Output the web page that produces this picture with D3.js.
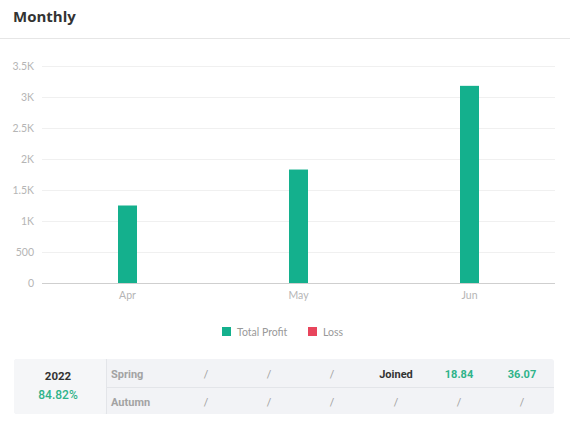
<!DOCTYPE html>
<html><head><meta charset="utf-8">
<script src="https://cdn.jsdelivr.net/npm/d3@7"></script>
<style>
html,body{margin:0;padding:0;background:#fff;}
svg{display:block;}
</style></head>
<body>
<svg id="c" width="570" height="427"></svg>
<script>
const categories = ["Apr", "May", "Jun"];
const totalProfit = [1250, 1830, 3180];
const loss = [0, 0, 0];
const yTicks = [0, 500, 1000, 1500, 2000, 2500, 3000, 3500];
const legendLabels = ["Total Profit", "Loss"];
const tableYear = "2022";
const tablePct = "84.82%";
const rowLabels = ["Spring", "Autumn"];
const rowSpring = ["/", "/", "/", "Joined", "18.84", "36.07"];
const rowAutumn = ["/", "/", "/", "/", "/", "/"];

const svg = d3.select("#c");
const green = "#14b08d", red = "#e8455c";
const font = "Lato, 'Open Sans', sans-serif";

svg.append("text").attr("x", 13).attr("y", 22).text("Monthly")
  .attr("font-family", "'Open Sans', sans-serif").attr("font-weight", 700)
  .attr("font-size", 15).attr("fill", "#333");
svg.append("line").attr("x1", 0).attr("x2", 570).attr("y1", 38.5).attr("y2", 38.5)
  .attr("stroke", "#e6e6e6");

const x = d3.scaleBand().domain(categories).range([42, 555]);
const y = d3.scaleLinear().domain([0, 3500]).range([283, 66]);

const fmt = v => v >= 1000 ? (v / 1000) + "K" : String(v);
const yAxis = svg.append("g").attr("transform", "translate(42,0)")
  .call(d3.axisLeft(y).tickValues(yTicks).tickFormat(fmt).tickSize(-513).tickPadding(8));
yAxis.select(".domain").remove();
yAxis.selectAll(".tick line").attr("stroke", d => d === 0 ? "#cfcfcf" : "#f0f0f0");
yAxis.selectAll(".tick text").attr("fill", "#b5b5b5").attr("font-size", 10.5).attr("font-family", font);

const xAxis = svg.append("g").attr("transform", "translate(0,283)")
  .call(d3.axisBottom(x).tickSize(0).tickPadding(9));
xAxis.select(".domain").remove();
xAxis.selectAll(".tick text").attr("fill", "#b5b5b5").attr("font-size", 10.5).attr("font-family", font);

const bw = 19;
svg.append("g").selectAll("rect").data(totalProfit).join("rect")
  .attr("x", (d, i) => x(categories[i]) + x.bandwidth() / 2 - bw / 2)
  .attr("y", d => y(d)).attr("width", bw).attr("height", d => y(0) - y(d))
  .attr("fill", green);

// legend
const lg = svg.append("g").attr("font-family", font).attr("font-size", 10.5);
const legX = [222, 308];
[green, red].forEach((c, i) => {
  lg.append("rect").attr("x", legX[i]).attr("y", 327).attr("width", 9).attr("height", 9).attr("fill", c);
  lg.append("text").attr("x", legX[i] + 15).attr("y", 335.5).text(legendLabels[i]).attr("fill", "#999");
});

// table
const t = svg.append("g").attr("font-family", "Roboto, 'Open Sans', sans-serif");
t.append("rect").attr("x", 14).attr("y", 359).attr("width", 540).attr("height", 55).attr("rx", 3).attr("fill", "#f2f3f6");
t.append("rect").attr("x", 14).attr("y", 359).attr("width", 92).attr("height", 55).attr("rx", 3).attr("fill", "#f5f6f8");
t.append("line").attr("x1", 106.5).attr("x2", 106.5).attr("y1", 359).attr("y2", 414).attr("stroke", "#e3e5e9");
t.append("line").attr("x1", 107).attr("x2", 554).attr("y1", 387.5).attr("y2", 387.5).attr("stroke", "#e3e5e9");
t.append("text").attr("x", 58).attr("y", 380).attr("text-anchor", "middle").text(tableYear)
  .attr("font-size", 11.5).attr("font-weight", 700).attr("fill", "#333");
t.append("text").attr("x", 58).attr("y", 399).attr("text-anchor", "middle").text(tablePct)
  .attr("font-size", 12).attr("font-weight", 500).attr("fill", "#2fb38a");
const rowsY = [378, 406];
rowLabels.forEach((l, i) => {
  t.append("text").attr("x", 111).attr("y", rowsY[i]).text(l)
    .attr("font-size", 11).attr("font-weight", 700).attr("fill", "#a3a3a3");
});
const colX = [206, 269, 332, 396, 459, 522];
[rowSpring, rowAutumn].forEach((row, r) => {
  row.forEach((v, j) => {
    const isNum = /\d/.test(v);
    t.append("text").attr("x", colX[j]).attr("y", rowsY[r]).attr("text-anchor", "middle").text(v)
      .attr("font-size", 11).attr("font-weight", v === "/" ? 400 : 700)
      .attr("fill", v === "/" ? "#a3a3a3" : (isNum ? "#2fb38a" : "#333"));
  });
});
</script>
</body></html>
